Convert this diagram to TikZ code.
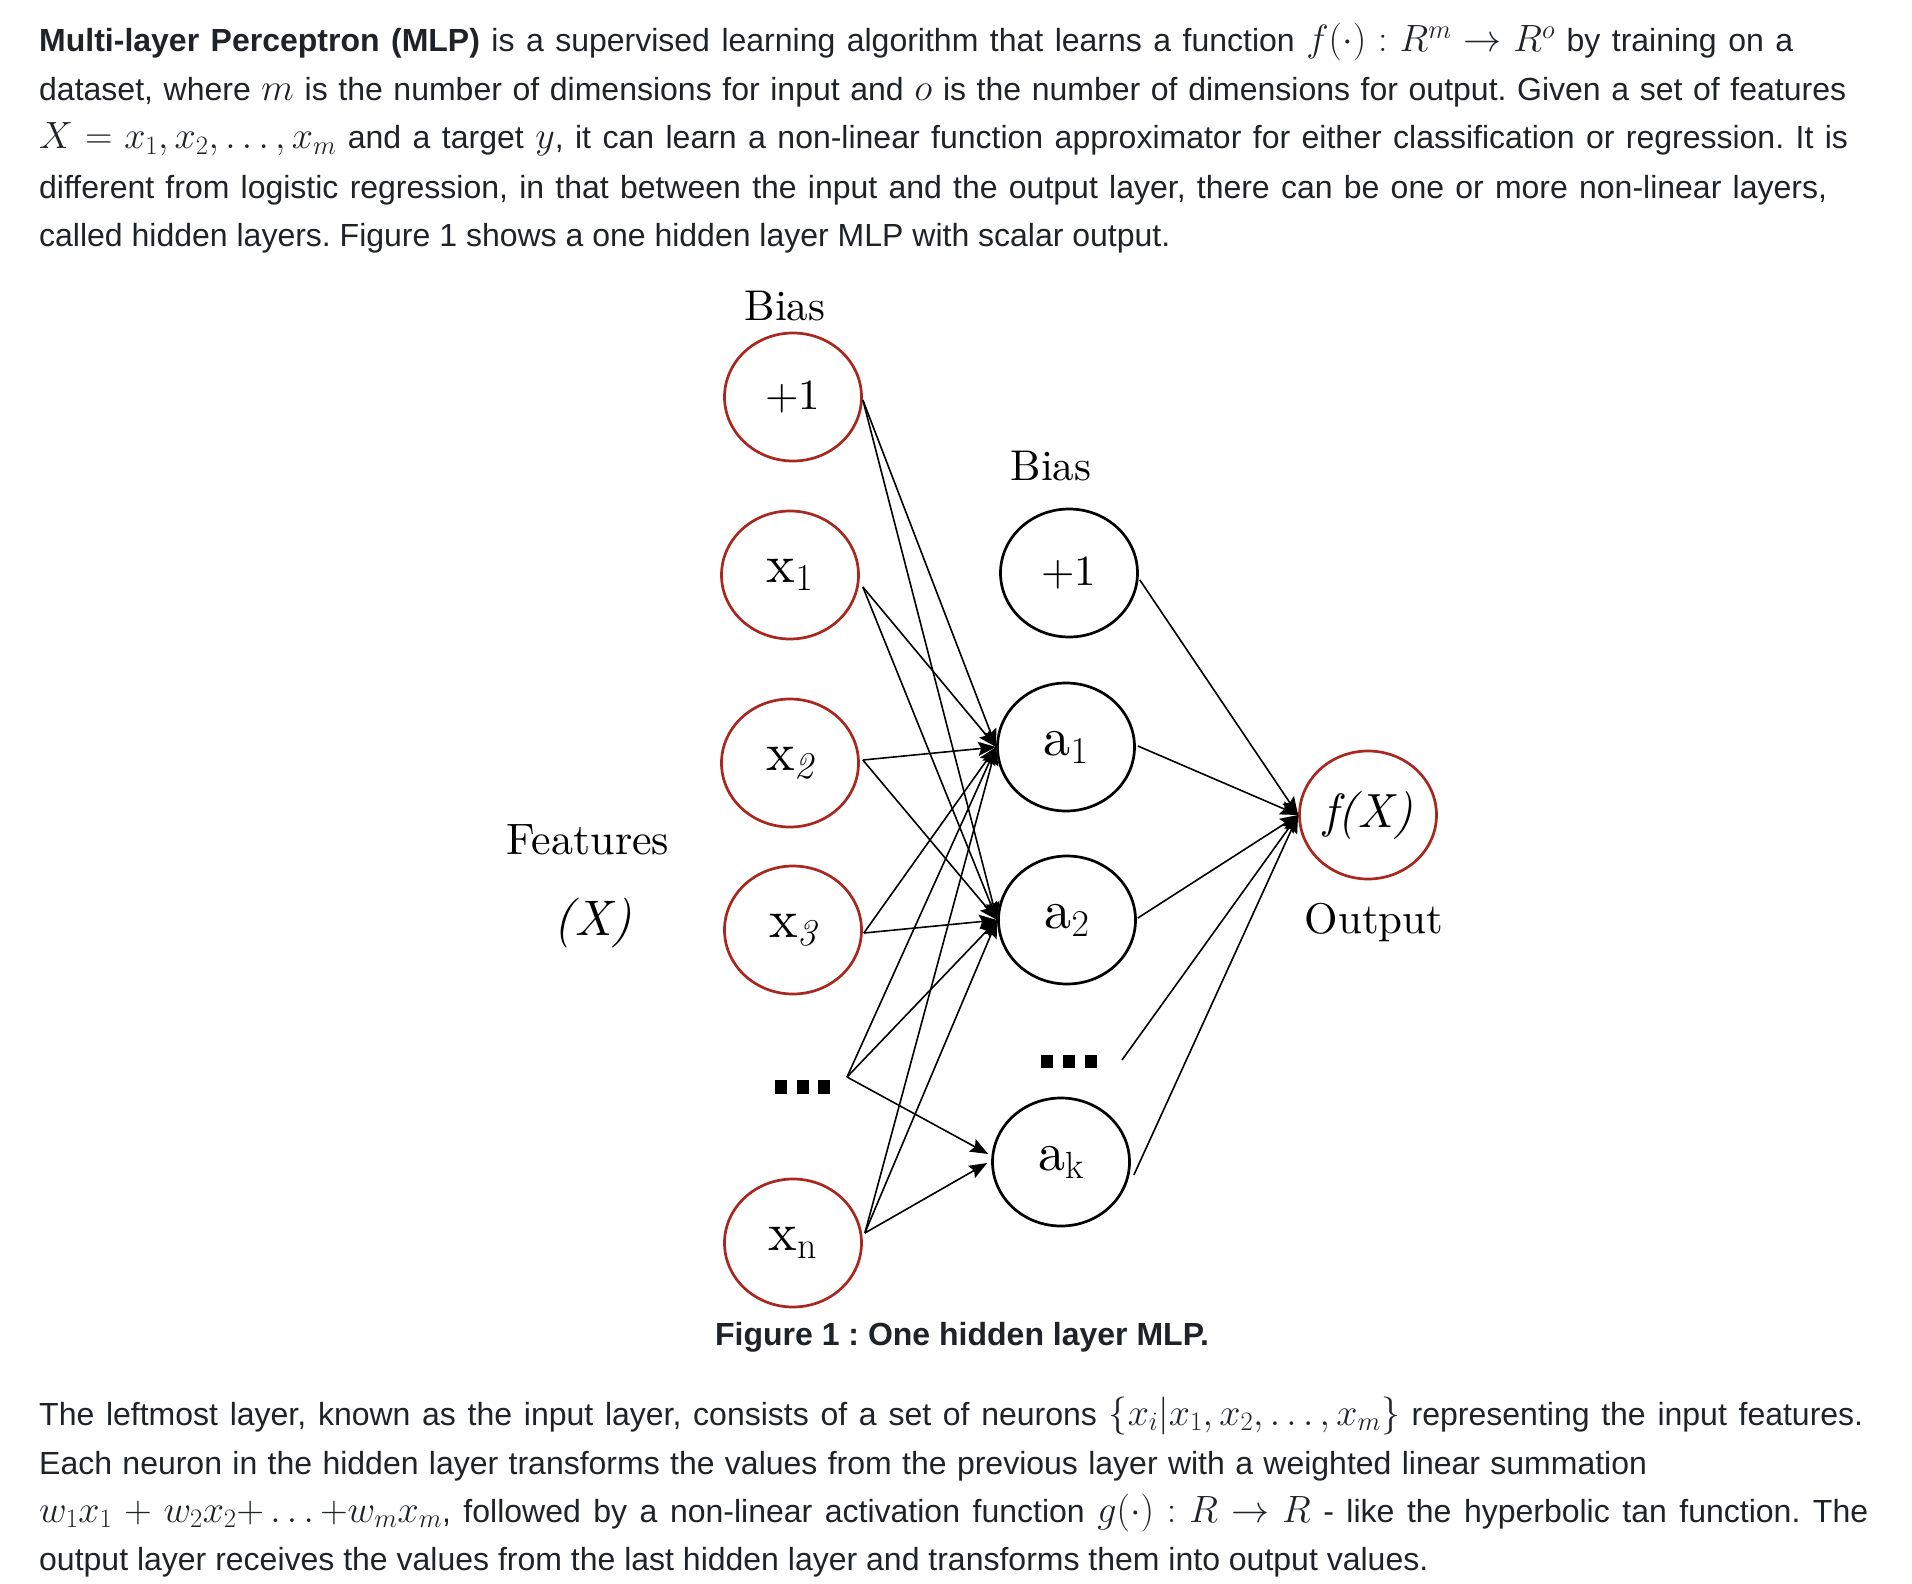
\RequirePackage{fix-cm}
\documentclass[tikz,border=0pt]{standalone}
\usepackage{fontspec}
\setsansfont{Liberation Sans}
\newfontfamily\lmten{lmroman10-regular.otf}[ItalicFont=lmroman10-italic.otf]
\usetikzlibrary{shapes.geometric,arrows.meta,calc}
\definecolor{nred}{RGB}{168,40,32}
\definecolor{txt}{RGB}{31,35,40}
\newcommand{\bodyfont}{\fontsize{32}{48}\selectfont\sffamily\frenchspacing}
\newcommand{\lblfont}{\fontsize{43}{50}\selectfont\lmten}
\newcommand{\nodefont}{\fontsize{54}{60}\selectfont\lmten}
\newcommand{\mth}[1]{{\fontsize{38}{48}\selectfont\thickmuskip=4.5mu plus 2mu\relax$#1$}}
\begin{document}
\begin{tikzpicture}[x=1pt,y=-1pt,
  inode/.style={ellipse, draw=nred, line width=2.7pt, minimum width=137pt, minimum height=128pt, inner sep=0pt, font=\nodefont},
  hnode/.style={inode, draw=black},
  conn/.style={line width=1.6pt, -{Stealth[length=18pt,width=14pt,inset=3pt]}},
  lbl/.style={inner sep=0pt, font=\lblfont, anchor=base},
  body/.style={inner sep=0pt, font=\bodyfont, text=txt, anchor=base west},
  dotsq/.style={fill=black, inner sep=0pt, minimum width=12pt, minimum height=14pt, draw=none}
]
\useasboundingbox (0,0) rectangle (1912,1584);
\fill[white] (0,0) rectangle (1912,1584);

% ---- top paragraph ----
\node[body] (t1) at (39,52) {\makebox[1754pt][s]{\textbf{Multi-layer Perceptron (MLP)} is a supervised learning algorithm that learns a function \mth{f(\cdot) : R^m \rightarrow R^o} by training on a}};
\node[body] (t2) at (39,101) {\makebox[1807pt][s]{dataset, where \mth{m} is the number of dimensions for input and \mth{o} is the number of dimensions for output. Given a set of features}};
\node[body] (t3) at (39,149) {\makebox[1809pt][s]{\mth{X = x_1, x_2, \ldots, x_m} and a target \mth{y}, it can learn a non-linear function approximator for either classification or regression. It is}};
\node[body] (t4) at (39,198) {\makebox[1788pt][s]{different from logistic regression, in that between the input and the output layer, there can be one or more non-linear layers,}};
\node[body] (t5) at (39,246) {called hidden layers. Figure 1 shows a one hidden layer MLP with scalar output.};

% ---- labels ----
\node[lbl] (biasI) at (785,320) {Bias};
\node[lbl] (biasH) at (1051,480) {Bias};
\node[lbl, font=\fontsize{44}{50}\selectfont\lmten] (feat) at (588,854) {Features};
\node[inner sep=0pt, anchor=base, font=\fontsize{50}{56}\selectfont\lmten\itshape] (featX) at (593,935) {(X)};
\node[lbl] (outl) at (1374,933) {Output};

% ---- input layer ----
\node[inode, font=\fontsize{43}{50}\selectfont\lmten] (ib) at (793,397) {+1};
\node[inode] (x1) at (790,575) {x$_{1}$};
\node[inode] (x2) at (790,763) {x$_{\mathit{2}}$};
\node[inode] (x3) at (793,930) {x$_{\mathit{3}}$};
\node[inode] (xn) at (793,1243) {x$_{\mathrm{n}}$};
\node[dotsq] (id1) at (781,1087) {};
\node[dotsq] (id2) at (803,1087) {};
\node[dotsq] (id3) at (824,1087) {};
\coordinate (idots) at (847,1077);

% ---- hidden layer ----
\node[hnode, font=\fontsize{43}{50}\selectfont\lmten] (hb) at (1069,573) {+1};
\node[hnode] (a1) at (1066,747) {a$_{1}$};
\node[hnode] (a2) at (1067,920) {a$_{2}$};
\node[hnode] (ak) at (1061,1162) {a$_{\mathrm{k}}$};
\node[dotsq, minimum height=13pt] (hd1) at (1047,1061) {};
\node[dotsq, minimum height=13pt] (hd2) at (1069,1061) {};
\node[dotsq, minimum height=13pt] (hd3) at (1091,1061) {};
\coordinate (hdots) at (1122,1060);

% ---- output ----
\node[inode, font=\fontsize{48}{52}\selectfont\lmten\itshape] (fX) at (1368,815) {f(X)};

% ---- connectors input -> hidden ----
\foreach \s/\dx/\dy in {ib/0/3, x1/3/12, x2/3/-3, x3/1/3, xn/2/-10}{
  \draw[conn] ($(\s.east)+(\dx,\dy)$) -- (a1.west);
  \draw[conn] ($(\s.east)+(\dx,\dy)$) -- (a2.west);
}
\draw[conn] (idots) -- (a1.west);
\draw[conn] (idots) -- (a2.west);
\draw[conn] (idots) -- ($(ak.west)+(-3,-8)$);
\draw[conn] ($(xn.east)+(2,-10)$) -- ($(ak.west)+(-4,1)$);

% ---- connectors hidden -> output ----
\draw[conn] ($(hb.east)+(1,7)$) -- (fX.west);
\draw[conn] ($(a1.east)+(2,-1)$) -- (fX.west);
\draw[conn] ($(a2.east)+(1,-2)$) -- (fX.west);
\draw[conn] (hdots) -- (fX.west);
\draw[conn] ($(ak.east)+(3,13)$) -- (fX.west);

% ---- caption and bottom paragraph ----
\node[inner sep=0pt, anchor=base, font=\bodyfont\bfseries, text=txt] (cap) at (962,1345) {Figure 1 : One hidden layer MLP.};
\node[body] (b1) at (39,1425) {\makebox[1824pt][s]{The leftmost layer, known as the input layer, consists of a set of neurons \mth{\bigl\{x_i \big| x_1, x_2, \ldots, x_m\bigr\}} representing the input features.}};
\node[body] (b2) at (39,1474) {\makebox[1608pt][s]{Each neuron in the hidden layer transforms the values from the previous layer with a weighted linear summation}};
\node[body] (b3) at (39,1522) {\makebox[1829pt][s]{\mth{w_1x_1 + w_2x_2{+}\ldots{+}w_mx_m}, followed by a non-linear activation function \mth{g(\cdot) : R \rightarrow R} - like the hyperbolic tan function. The}};
\node[body] (b4) at (39,1570) {output layer receives the values from the last hidden layer and transforms them into output values.};
\end{tikzpicture}
\end{document}
